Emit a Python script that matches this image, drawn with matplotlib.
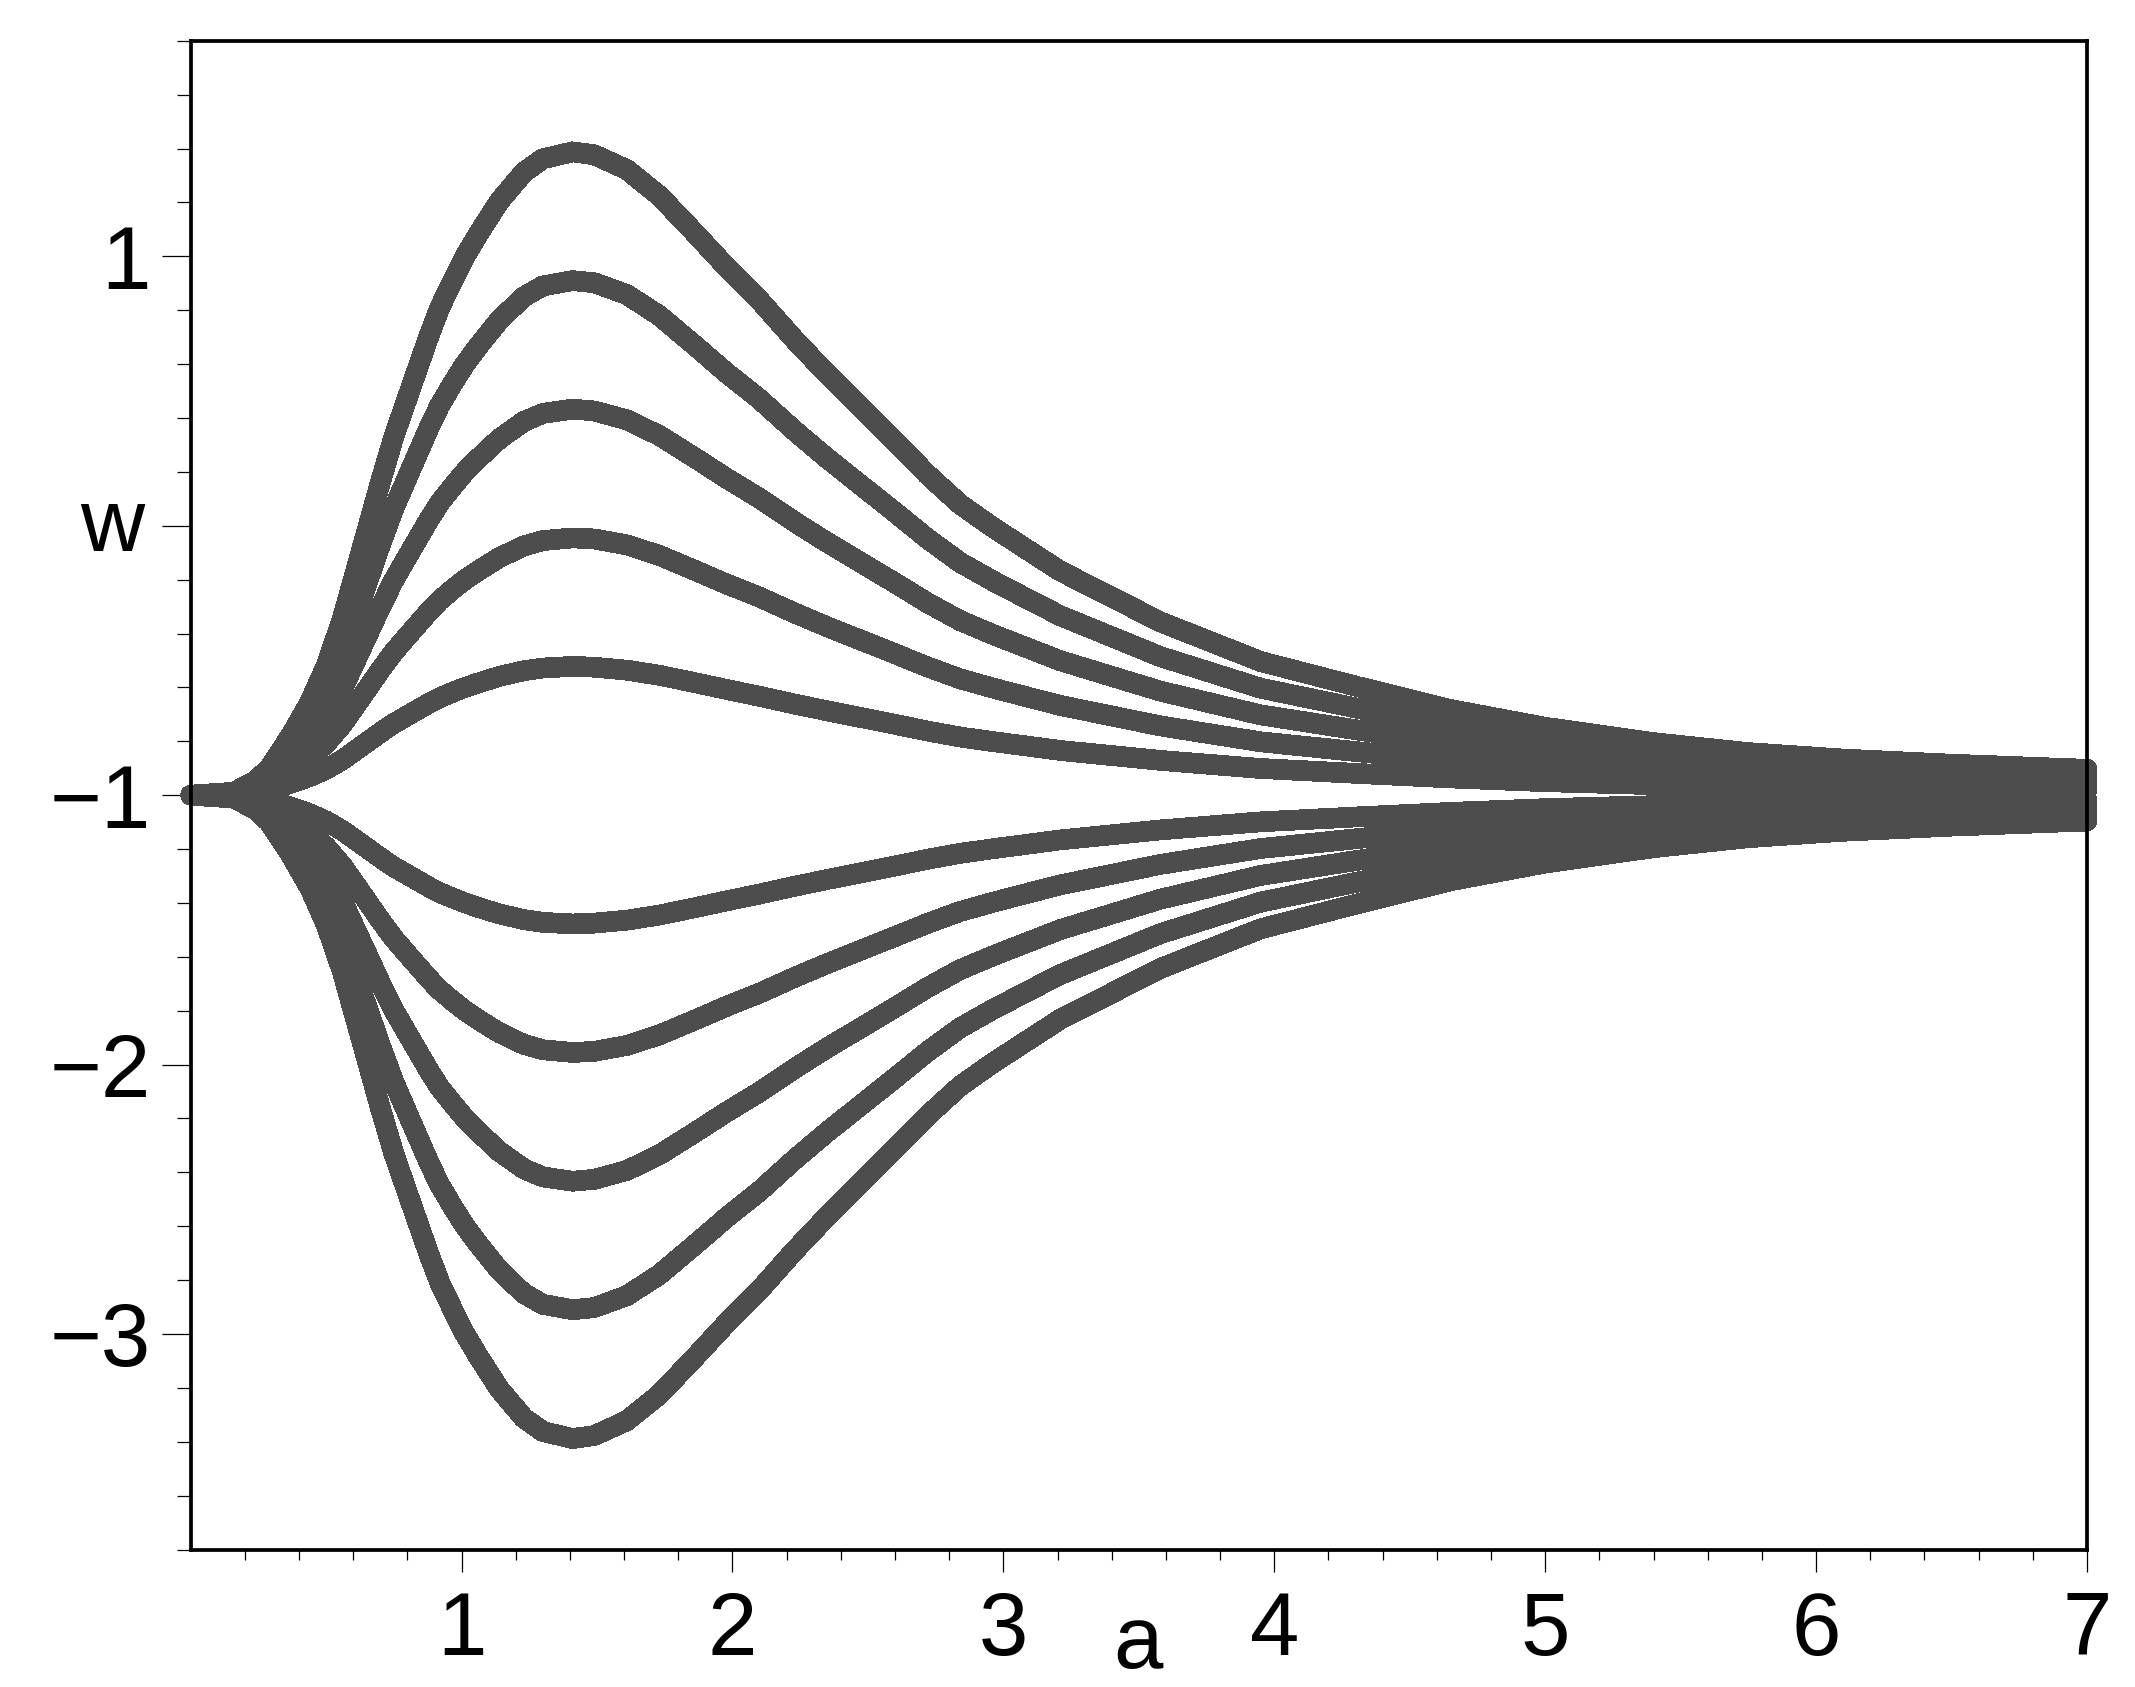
"""
w(a) 곡선 묶음 (Maple 스타일 boxed plot 재현)
- 위/아래 각 5개 곡선, a=0 에서 w=-1 로 시작
"""

import matplotlib
matplotlib.use('Agg')
import matplotlib.pyplot as plt

# ─────────────────────────── 데이터 ───────────────────────────
A_VALS = [0.00, 0.16, 0.24, 0.29, 0.37, 0.44, 0.50, 0.56, 0.61, 0.66, 0.70, 0.75,
          0.80, 0.84, 0.88, 0.92, 0.97, 1.01, 1.06, 1.14, 1.23, 1.30, 1.41, 1.49,
          1.61, 1.73, 1.86, 1.98, 2.10, 2.23, 2.35, 2.47, 2.59, 2.72, 2.84, 2.96,
          3.09, 3.21, 3.58, 3.95, 4.30, 4.65, 5.00, 5.40, 5.75, 6.10, 6.50, 7.00]

# 위쪽 곡선 (바깥 → 안쪽)
W_UP_1 = [-1.000, -0.989, -0.946, -0.900, -0.778, -0.655, -0.520, -0.345, -0.165, 0.015, 0.160, 0.330,
          0.475, 0.590, 0.705, 0.810, 0.915, 0.995, 1.080, 1.205, 1.312, 1.362, 1.388, 1.377,
          1.322, 1.225, 1.088, 0.958, 0.837, 0.690, 0.563, 0.443, 0.323, 0.190, 0.080, -0.005,
          -0.090, -0.168, -0.357, -0.504, -0.595, -0.682, -0.748, -0.805, -0.842, -0.866, -0.885, -0.904]
W_UP_2 = [-1.000, -0.991, -0.957, -0.920, -0.822, -0.724, -0.616, -0.476, -0.332, -0.188, -0.072, 0.064,
          0.180, 0.272, 0.364, 0.448, 0.532, 0.596, 0.664, 0.764, 0.850, 0.890, 0.910, 0.902,
          0.858, 0.780, 0.670, 0.566, 0.470, 0.352, 0.250, 0.154, 0.058, -0.048, -0.136, -0.204,
          -0.272, -0.334, -0.486, -0.603, -0.676, -0.746, -0.798, -0.844, -0.874, -0.893, -0.908, -0.923]
W_UP_3 = [-1.000, -0.993, -0.968, -0.940, -0.867, -0.793, -0.712, -0.607, -0.499, -0.391, -0.304, -0.202,
          -0.115, -0.046, 0.023, 0.086, 0.149, 0.197, 0.248, 0.323, 0.387, 0.417, 0.433, 0.426,
          0.393, 0.335, 0.253, 0.175, 0.102, 0.014, -0.062, -0.134, -0.206, -0.286, -0.352, -0.403,
          -0.454, -0.501, -0.614, -0.702, -0.757, -0.809, -0.849, -0.883, -0.905, -0.920, -0.931, -0.942]
W_UP_4 = [-1.000, -0.996, -0.978, -0.960, -0.911, -0.862, -0.808, -0.738, -0.666, -0.594, -0.536, -0.468,
          -0.410, -0.364, -0.318, -0.276, -0.234, -0.202, -0.168, -0.118, -0.075, -0.055, -0.045, -0.049,
          -0.071, -0.110, -0.165, -0.217, -0.265, -0.324, -0.375, -0.423, -0.471, -0.524, -0.568, -0.602,
          -0.636, -0.667, -0.743, -0.802, -0.838, -0.873, -0.899, -0.922, -0.937, -0.946, -0.954, -0.962]
W_UP_5 = [-1.000, -0.998, -0.989, -0.980, -0.956, -0.931, -0.904, -0.869, -0.833, -0.797, -0.768, -0.734,
          -0.705, -0.682, -0.659, -0.638, -0.617, -0.601, -0.584, -0.559, -0.538, -0.528, -0.522, -0.525,
          -0.536, -0.555, -0.582, -0.608, -0.633, -0.662, -0.687, -0.711, -0.735, -0.762, -0.784, -0.801,
          -0.818, -0.834, -0.871, -0.901, -0.919, -0.936, -0.950, -0.961, -0.968, -0.973, -0.977, -0.981]

# 아래쪽 곡선 (안쪽 → 바깥)
W_LO_5 = [-1.000, -1.002, -1.011, -1.020, -1.044, -1.069, -1.096, -1.131, -1.167, -1.203, -1.232, -1.266,
          -1.295, -1.318, -1.341, -1.362, -1.383, -1.399, -1.416, -1.441, -1.462, -1.472, -1.478, -1.475,
          -1.464, -1.445, -1.418, -1.392, -1.367, -1.338, -1.313, -1.289, -1.265, -1.238, -1.216, -1.199,
          -1.182, -1.166, -1.129, -1.099, -1.081, -1.064, -1.050, -1.039, -1.032, -1.027, -1.023, -1.019]
W_LO_4 = [-1.000, -1.004, -1.022, -1.040, -1.089, -1.138, -1.192, -1.262, -1.334, -1.406, -1.464, -1.532,
          -1.590, -1.636, -1.682, -1.724, -1.766, -1.798, -1.832, -1.882, -1.925, -1.945, -1.955, -1.951,
          -1.929, -1.890, -1.835, -1.783, -1.735, -1.676, -1.625, -1.577, -1.529, -1.476, -1.432, -1.398,
          -1.364, -1.333, -1.257, -1.198, -1.162, -1.127, -1.101, -1.078, -1.063, -1.054, -1.046, -1.038]
W_LO_3 = [-1.000, -1.007, -1.032, -1.060, -1.133, -1.207, -1.288, -1.393, -1.501, -1.609, -1.696, -1.798,
          -1.885, -1.954, -2.023, -2.086, -2.149, -2.197, -2.248, -2.323, -2.387, -2.417, -2.433, -2.426,
          -2.393, -2.335, -2.253, -2.175, -2.102, -2.014, -1.938, -1.866, -1.794, -1.714, -1.648, -1.597,
          -1.546, -1.499, -1.386, -1.298, -1.243, -1.191, -1.151, -1.117, -1.095, -1.080, -1.069, -1.058]
W_LO_2 = [-1.000, -1.009, -1.043, -1.080, -1.178, -1.276, -1.384, -1.524, -1.668, -1.812, -1.928, -2.064,
          -2.180, -2.272, -2.364, -2.448, -2.532, -2.596, -2.664, -2.764, -2.850, -2.890, -2.910, -2.902,
          -2.858, -2.780, -2.670, -2.566, -2.470, -2.352, -2.250, -2.154, -2.058, -1.952, -1.864, -1.796,
          -1.728, -1.666, -1.514, -1.397, -1.324, -1.254, -1.202, -1.156, -1.126, -1.107, -1.092, -1.077]
W_LO_1 = [-1.000, -1.011, -1.054, -1.100, -1.222, -1.345, -1.480, -1.655, -1.835, -2.015, -2.160, -2.330,
          -2.475, -2.590, -2.705, -2.810, -2.915, -2.995, -3.080, -3.205, -3.312, -3.362, -3.388, -3.377,
          -3.322, -3.225, -3.088, -2.958, -2.837, -2.690, -2.563, -2.443, -2.323, -2.190, -2.080, -1.995,
          -1.910, -1.832, -1.643, -1.496, -1.405, -1.318, -1.252, -1.195, -1.158, -1.134, -1.115, -1.096]

CURVES = [W_UP_1, W_UP_2, W_UP_3, W_UP_4, W_UP_5,
          W_LO_5, W_LO_4, W_LO_3, W_LO_2, W_LO_1]

X_TICKS = [1, 2, 3, 4, 5, 6, 7]
X_TICK_LABELS = ['1', '2', '3', '4', '5', '6', '7']
Y_TICKS = [-3, -2, -1, 0, 1]
Y_TICK_LABELS = ['\u22123', '\u22122', '\u22121', '', '1']

# ─────────────────────────── 스타일 ───────────────────────────
LINE_COLOR = '#4d4d4d'
FONT = ['Liberation Sans', 'DejaVu Sans']
FS = 64

plt.rcParams['font.family'] = FONT

fig = plt.figure(figsize=(21.35, 16.87), dpi=100)
ax = fig.add_axes([0.0893, 0.0815, 0.8882, 0.8943])

# Maple 출력처럼 계단진(비안티앨리어싱) 굵은 선
for w in CURVES:
    ax.plot(A_VALS, w, color=LINE_COLOR, lw=14.2, solid_capstyle='round',
            solid_joinstyle='round', clip_on=False, antialiased=False, zorder=3)

ax.set_xlim(0, 7)
ax.set_ylim(-3.8, 1.8)

# 눈금
ax.set_xticks(X_TICKS, labels=X_TICK_LABELS)
ax.set_yticks(Y_TICKS, labels=Y_TICK_LABELS)
x_minor = [i * 0.2 for i in range(1, 35) if i % 5]
y_minor = [-3.8 + i * 0.2 for i in range(0, 29)]
y_minor = [v for v in y_minor if abs(v - round(v)) > 1e-6]
ax.set_xticks(x_minor, minor=True)
ax.set_yticks(y_minor, minor=True)

ax.tick_params(axis='x', which='major', direction='out', length=15.8, width=0.9,
               pad=13, labelsize=FS, colors='black')
ax.tick_params(axis='x', which='minor', direction='out', length=7.2, width=0.9)
ax.tick_params(axis='y', which='major', direction='out', length=20.9, width=0.9,
               pad=8, labelsize=FS, colors='black')
ax.tick_params(axis='y', which='minor', direction='out', length=10, width=0.9)

for spine in ax.spines.values():
    spine.set_linewidth(2.7)
    spine.set_color('black')
    spine.set_zorder(4)

# 축 이름 (Maple 위치 그대로)
ax.text(0.4996, -0.0785, 'a', transform=ax.transAxes, fontsize=FS,
        ha='center', va='baseline')
ax.text(-0.0414, 0.6618, 'w', transform=ax.transAxes, fontsize=FS,
        ha='center', va='baseline')

fig.savefig('out.png', dpi=100, facecolor='white')
